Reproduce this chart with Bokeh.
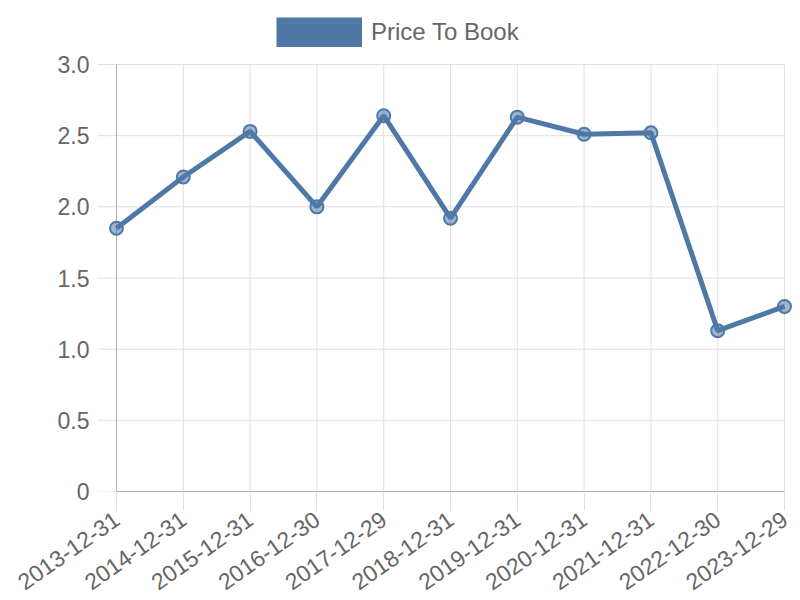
import math
from bokeh.plotting import figure
from bokeh.models import Range1d, FixedTicker, Legend, LegendItem, NumeralTickFormatter, ColumnDataSource
from bokeh.embed import file_html
from bokeh.resources import INLINE

dates = ["2013-12-31", "2014-12-31", "2015-12-31", "2016-12-30", "2017-12-29",
         "2018-12-31", "2019-12-31", "2020-12-31", "2021-12-31", "2022-12-30", "2023-12-29"]
price_to_book = [1.85, 2.21, 2.53, 2.00, 2.64, 1.92, 2.63, 2.51, 2.52, 1.13, 1.30]
y_ticks = [0, 0.5, 1.0, 1.5, 2.0, 2.5, 3.0]
series_name = "Price To Book"

BLUE = "#4e79a7"
FONT = "Liberation Sans"
GRID = "#e0e0e0"
AXIS = "#b0b0b0"
TXT = "#666666"

# pixel layout (plot area of the chart: x 116..784, y 64..491)
W, H = 800, 600
AX_L, AX_R, AX_T, AX_B = 116, 784, 64, 491
FR_L = 96           # frame left (extra room so the end markers are not clipped)
TICK = 19

xs = list(range(len(dates)))
n = len(dates) - 1
ymax = y_ticks[-1]
px_x = (AX_R - AX_L) / n
px_y = (AX_B - AX_T) / ymax

x_start = -(AX_L - FR_L) / px_x
x_end = n + (W - AX_R) / px_x
y_end = ymax + AX_T / px_y

src = ColumnDataSource(dict(x=xs, y=price_to_book))

p = figure(width=W, height=H, output_backend="svg", toolbar_location=None,
           x_range=Range1d(x_start, x_end), y_range=Range1d(0, y_end),
           min_border_left=FR_L, min_border_right=0, min_border_top=0, min_border_bottom=H - AX_B)
p.outline_line_color = None
p.background_fill_color = "white"
p.border_fill_color = "white"
p.xgrid.grid_line_color = None
p.ygrid.grid_line_color = None

# axes
p.xaxis.ticker = FixedTicker(ticks=xs)
p.xaxis.major_label_overrides = {i: d for i, d in enumerate(dates)}
p.xaxis.major_label_orientation = math.radians(35)
p.xaxis.bounds = (0, n)
p.yaxis.ticker = FixedTicker(ticks=y_ticks)
p.yaxis.formatter = NumeralTickFormatter(format="0.0")
p.yaxis.major_label_overrides = {0: "0"}
for ax in (p.xaxis[0], p.yaxis[0]):
    ax.axis_line_color = AXIS
    ax.major_tick_line_color = GRID
    ax.minor_tick_line_color = None
    ax.major_label_text_font = FONT
    ax.major_label_text_font_size = "23px"
    ax.major_label_text_color = TXT
p.xaxis.major_tick_out = TICK
p.xaxis.major_tick_in = 0
p.xaxis.major_label_standoff = 6
p.yaxis.axis_line_color = None
p.yaxis.major_tick_line_color = None
p.yaxis.major_label_standoff = 1

# grid lines (with the y tick marks folded in)
y_left = -TICK / px_x
p.segment(x0=[y_left] * len(y_ticks), y0=y_ticks, x1=[n] * len(y_ticks), y1=y_ticks,
          line_color=GRID, line_width=1)
p.segment(x0=xs[1:], y0=[0] * n, x1=xs[1:], y1=[ymax] * n, line_color=GRID, line_width=1)
p.segment(x0=[0], y0=[-TICK / px_y], x1=[0], y1=[ymax], line_color=AXIS, line_width=1)

p.line("x", "y", source=src, line_color=BLUE, line_width=5)
p.scatter("x", "y", source=src, size=13, fill_color=BLUE, fill_alpha=0.55,
          line_color=BLUE, line_width=2)

nan = float("nan")
dummy = p.line(x=[nan, nan], y=[nan, nan], line_color=BLUE, line_width=30, line_cap="butt")
legend = Legend(items=[LegendItem(label=series_name, renderers=[dummy])],
                location=(276 - FR_L, AX_B - 47), orientation="horizontal",
                glyph_width=86, glyph_height=30, label_standoff=9,
                padding=0, margin=0, spacing=0,
                border_line_alpha=0, background_fill_alpha=0,
                label_text_font=FONT, label_text_font_size="24px",
                label_text_color=TXT)
p.add_layout(legend, "center")

open("out.html", "w").write(file_html(p, INLINE))
